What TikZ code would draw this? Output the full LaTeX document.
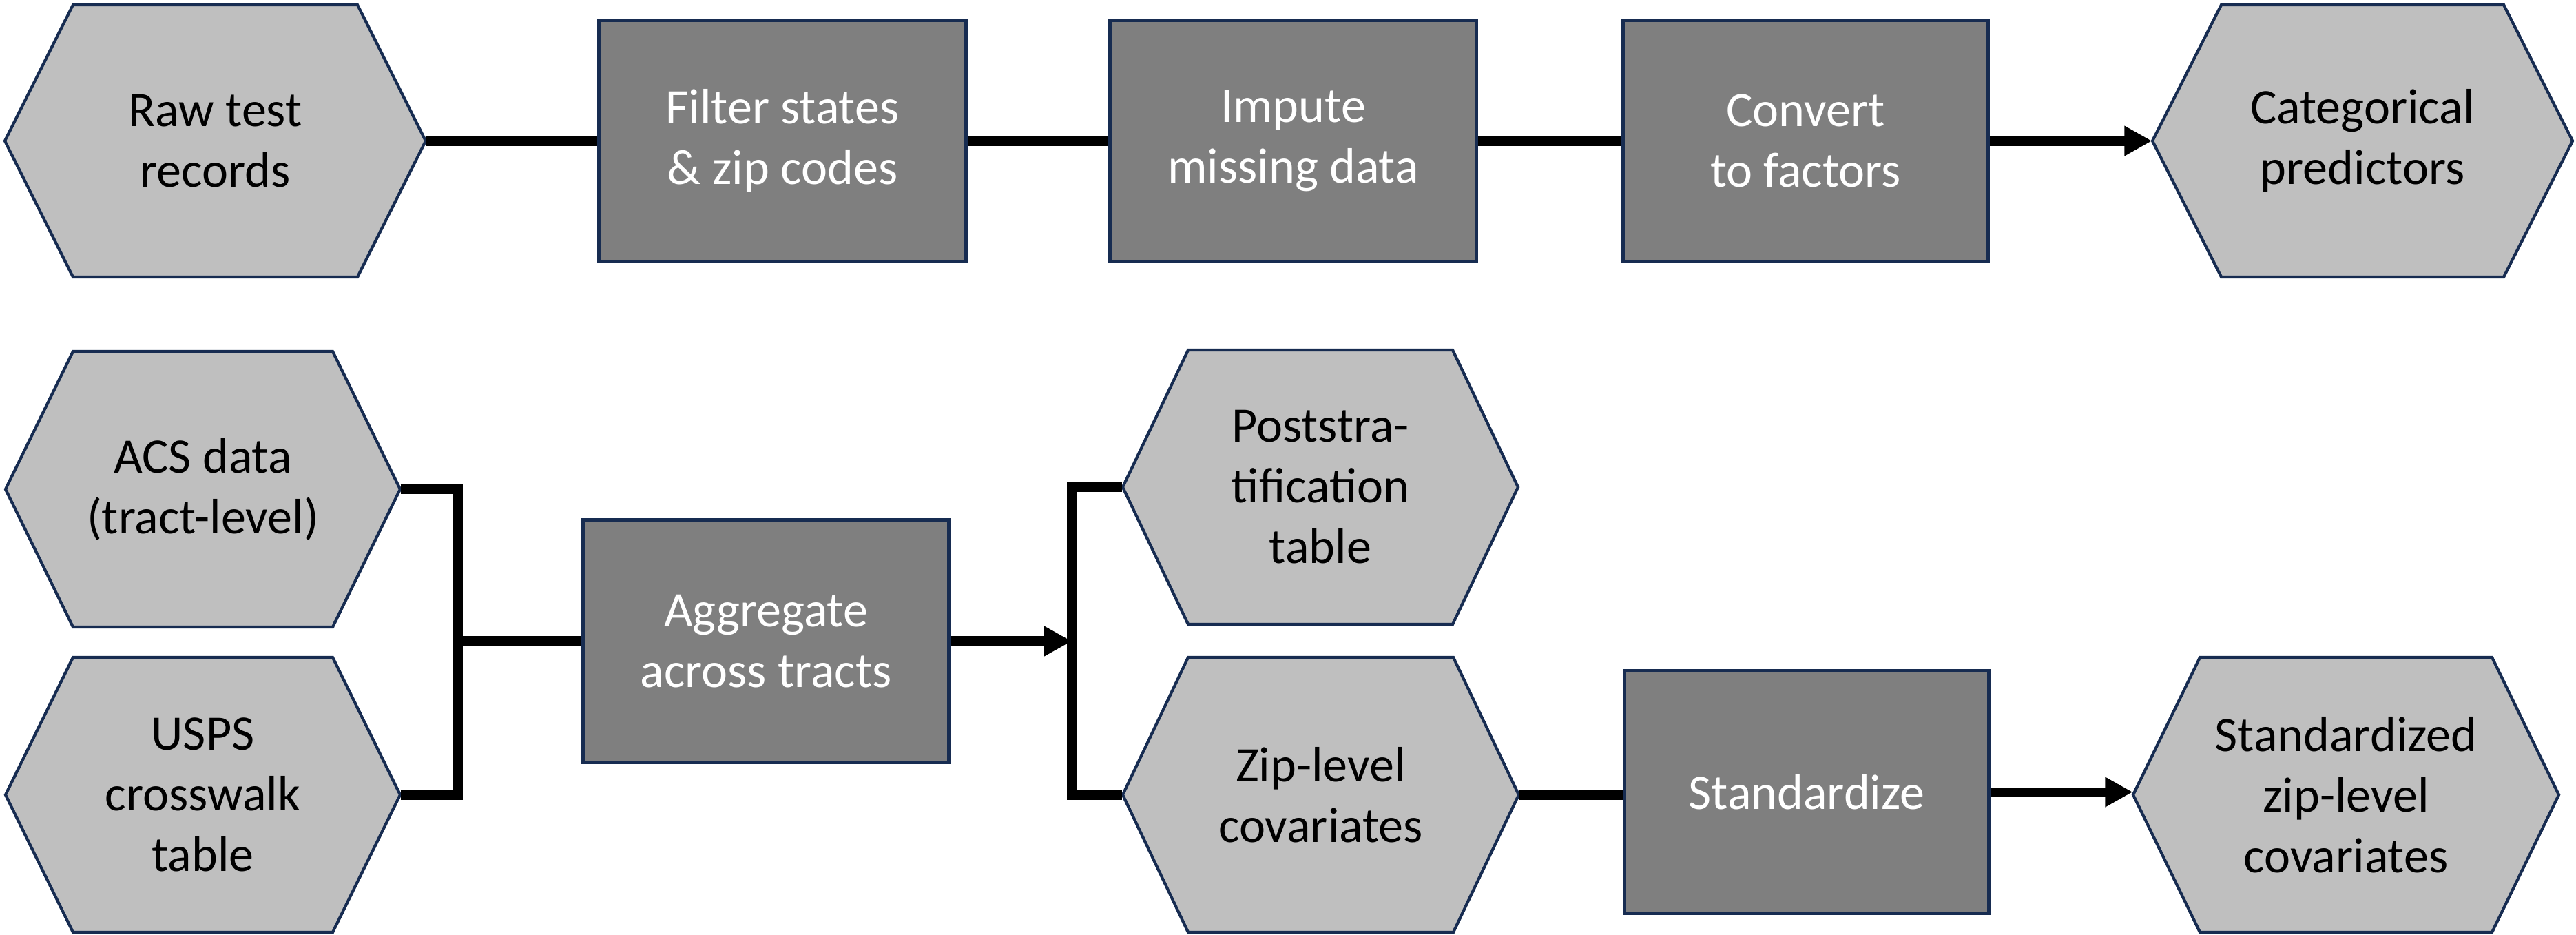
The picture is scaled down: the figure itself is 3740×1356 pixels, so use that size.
\documentclass[tikz,border=0pt]{standalone}
\usepackage{fontspec}
\setmainfont{Carlito}
\usetikzlibrary{arrows.meta}
\definecolor{hexfill}{HTML}{BFBFBF}
\definecolor{boxfill}{HTML}{7F7F7F}
\definecolor{edgeblue}{HTML}{172C51}
\newcommand{\hexnode}[7]{%
  \path[hexshape] (#2-#4/2,#3) -- (#2-#4/2+#6,#3-#5/2) -- (#2+#4/2-#6,#3-#5/2)
    -- (#2+#4/2,#3) -- (#2+#4/2-#6,#3+#5/2) -- (#2-#4/2+#6,#3+#5/2) -- cycle;
  \node[hextext, minimum width=#4*0.01cm, minimum height=#5*0.01cm] (#1) at (#2,#3) {#7};
}
\begin{document}
\begin{tikzpicture}[x=0.01cm, y=-0.01cm,
  txt/.style={font=\fontsize{20.5}{25}\selectfont, align=center},
  hexshape/.style={fill=hexfill, draw=edgeblue, line width=1.2pt, line join=miter},
  hextext/.style={txt, rectangle, inner sep=0pt, text=black},
  procbox/.style={txt, rectangle, fill=boxfill, draw=edgeblue, line width=1.4pt, inner sep=0pt, text=white},
  link/.style={line width=4pt, draw=black, line join=miter},
  flow/.style={link, -{Triangle[length=4mm, width=4.1mm]}}]
\useasboundingbox (0,0) rectangle (3740,1356);

% top row
\hexnode{raw}{312.5}{204.5}{611}{395}{99}{Raw test\\records}
\node[procbox, minimum width=5.32cm, minimum height=3.49cm] (filter) at (1136,204.5) {Filter states\\\& zip codes};
\node[procbox, minimum width=5.31cm, minimum height=3.49cm] (impute) at (1877.5,204.5) {Impute\\missing data};
\node[procbox, minimum width=5.29cm, minimum height=3.49cm] (convert) at (2621.5,204.5) {Convert\\to factors};
\hexnode{cat}{3430}{204.5}{610}{395}{100}{Categorical\\predictors}

% bottom row
\hexnode{acs}{294.5}{710}{573}{400}{98}{ACS data\\(tract-level)}
\hexnode{usps}{294.5}{1153.5}{573}{399}{98}{USPS\\crosswalk\\table}
\node[procbox, minimum width=5.30cm, minimum height=3.51cm] (agg) at (1112,930.5) {Aggregate\\across tracts};
\hexnode{post}{1917}{707}{574}{398}{95}{Poststra-\\tification\\table}
\hexnode{zip}{1917.5}{1153.5}{575}{399}{95}{Zip-level\\covariates}
\node[procbox, minimum width=5.28cm, minimum height=3.51cm] (std) at (2623,1149.5) {Standardize};
\hexnode{stdz}{3406}{1153.5}{618}{399}{97}{Standardized\\zip-level\\covariates}

\coordinate (lbr) at (665,929);
\coordinate (rbr) at (1556,929);

% connectors
\draw[link] (raw.east) -- (filter.west);
\draw[link] (filter.east) -- (impute.west);
\draw[link] (impute.east) -- (convert.west);
\draw[flow] (convert.east) -- (cat.west);

\draw[link] (acs.east) -- (acs.east -| lbr) -- (usps.east -| lbr) -- (usps.east);
\draw[link] (agg.west -| lbr) -- (agg.west);
\draw[flow] (agg.east) -- (agg.east -| rbr);
\draw[link] (post.west) -- (post.west -| rbr) -- (zip.west -| rbr) -- (zip.west);
\draw[link] (zip.east) -- (zip.east -| std.west);
\draw[flow] (std.east) -- (std.east -| stdz.west);
\end{tikzpicture}
\end{document}
